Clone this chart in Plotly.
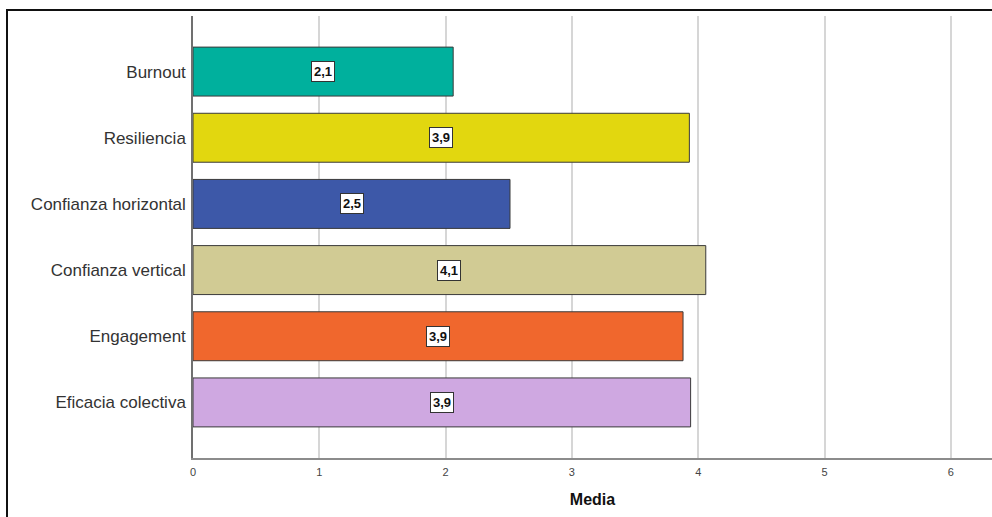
import plotly.graph_objects as go

categories = ["Burnout", "Resiliencia", "Confianza horizontal", "Confianza vertical", "Engagement", "Eficacia colectiva"]
values = [2.06, 3.93, 2.51, 4.06, 3.88, 3.94]
value_labels = ["2,1", "3,9", "2,5", "4,1", "3,9", "3,9"]
colors = ["#00b09d", "#e2d70f", "#3d58a8", "#d1cb94", "#f0672d", "#cfa8e1"]
x_ticks = [0, 1, 2, 3, 4, 5, 6]

W, H = 992, 517
ml, mr, mt, mb = 193, 0, 16, 59

fig = go.Figure()
fig.add_trace(go.Bar(
    x=values, y=categories, orientation="h",
    marker=dict(color=colors, line=dict(color="#3a3a3a", width=1)),
    width=0.74, showlegend=False, hoverinfo="x+y",
))

for cat, v, lab in zip(categories, values, value_labels):
    fig.add_annotation(
        x=v / 2, y=cat, xref="x", yref="y", text="<b>" + lab + "</b>",
        showarrow=False, bgcolor="white", bordercolor="#333333", borderwidth=1,
        borderpad=2, font=dict(family="Liberation Sans, Arial", size=13, color="#111111"),
    )

pw = W - ml - mr
ph = H - mt - mb
fig.add_shape(
    type="rect", xref="paper", yref="paper",
    x0=(7 - ml) / pw, x1=(W + 10 - ml) / pw,
    y0=-(H + 10 - (H - mb)) / ph, y1=1 + (mt - 10) / ph,
    line=dict(color="#111111", width=2), fillcolor="rgba(0,0,0,0)", layer="below",
)

fig.update_layout(
    width=W, height=H,
    margin=dict(l=ml, r=mr, t=mt, b=mb, pad=0),
    paper_bgcolor="white", plot_bgcolor="white",
    font=dict(family="Liberation Sans, Arial", color="#222222"),
    xaxis=dict(
        range=[0, (W - ml) / 126.3], tickvals=x_ticks, ticktext=[str(t) for t in x_ticks],
        showgrid=True, gridcolor="#d6d6d6", gridwidth=2,
        showline=True, linecolor="#8c8c8c", linewidth=1.5,
        zeroline=False, ticks="", ticklen=0, ticklabelstandoff=3,
        tickfont=dict(family="Liberation Sans Narrow, Liberation Sans", size=11, color="#444444"),
        title=dict(text="<b>Media</b>", font=dict(family="Liberation Sans Narrow, Liberation Sans", size=16, color="#111111"), standoff=17),
    ),
    yaxis=dict(
        type="category", categoryorder="array", categoryarray=categories,
        range=[5.84, -0.84], showgrid=False,
        showline=True, linecolor="#707070", linewidth=1.5,
        ticks="", ticklabelstandoff=2,
        tickfont=dict(family="Liberation Sans, Arial", size=17, color="#333333"),
    ),
)

fig.write_html("out.html")
